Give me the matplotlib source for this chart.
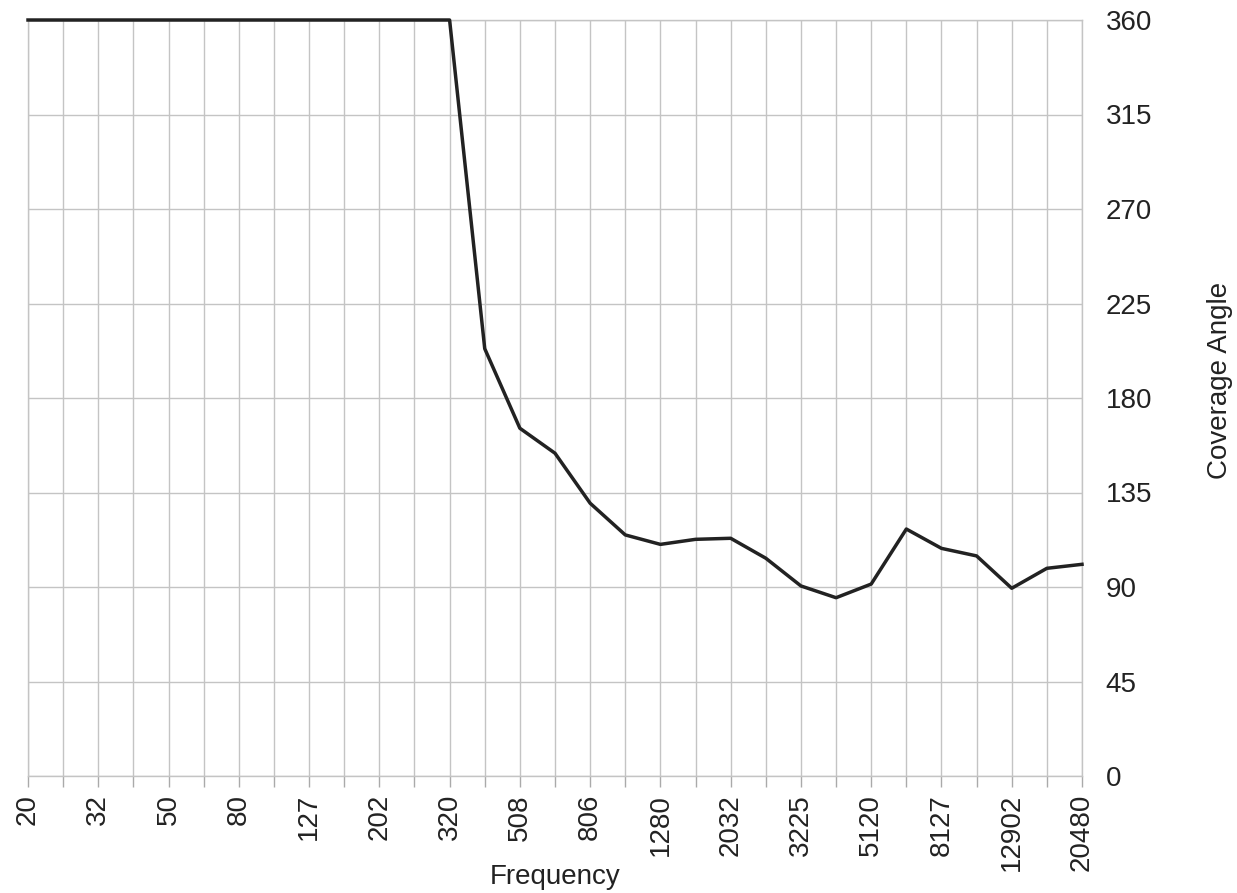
import matplotlib.pyplot as plt

plt.rcParams['font.family'] = ['Liberation Sans', 'DejaVu Sans']

freqs = [20, 25, 32, 40, 50, 63, 80, 101, 127, 160, 202, 254, 320, 403, 508, 640,
         806, 1016, 1280, 1613, 2032, 2560, 3225, 4064, 5120, 6451, 8127, 10240,
         12902, 16256, 20480]
coverage = [360, 360, 360, 360, 360, 360, 360, 360, 360, 360, 360, 360, 360,
            203.5, 165.6, 153.7, 129.9, 114.8, 110.3, 112.7, 113.2, 103.7, 90.5,
            84.9, 91.4, 117.6, 108.4, 104.8, 89.4, 98.9, 100.8]
y_ticks = [0, 45, 90, 135, 180, 225, 270, 315, 360]

x = list(range(len(freqs)))
labels = [str(f) if i % 2 == 0 else '' for i, f in enumerate(freqs)]

W, H = 1237, 893
fig = plt.figure(figsize=(W / 100, H / 100), dpi=100)
ax = fig.add_axes([28/W, 1 - 776/H, (1082 - 28)/W, (776 - 20)/H])

ax.plot(x, coverage, color='#222222', linewidth=2.5, zorder=5, clip_on=False)

ax.set_xlim(0, len(freqs) - 1)
ax.set_ylim(0, 360)
ax.set_xticks(x)
ax.set_xticklabels(labels, rotation=90, fontsize=20, color='#222222')
ax.set_yticks(y_ticks)
ax.set_yticklabels([str(v) for v in y_ticks], fontsize=20, color='#222222')
ax.yaxis.tick_right()
ax.tick_params(axis='y', length=0, pad=17)
ax.tick_params(axis='x', length=8, width=1, color='#aaaaaa', pad=5)

ax.grid(True, color='#c4c4c4', linewidth=1)
for side in ['top', 'right', 'bottom', 'left']:
    ax.spines[side].set_color('#c4c4c4')
    ax.spines[side].set_linewidth(1)

# axis titles placed by hand, as in the reference they sit close to the tick labels
fig.text(555/W, 1 - 877/H, 'Frequency', fontsize=20, color='#222222',
         ha='center', va='center')
fig.text(1220/W, 1 - 380/H, 'Coverage Angle', fontsize=20, color='#222222',
         ha='center', va='center', rotation=90)

fig.savefig('out.png', dpi=100)
